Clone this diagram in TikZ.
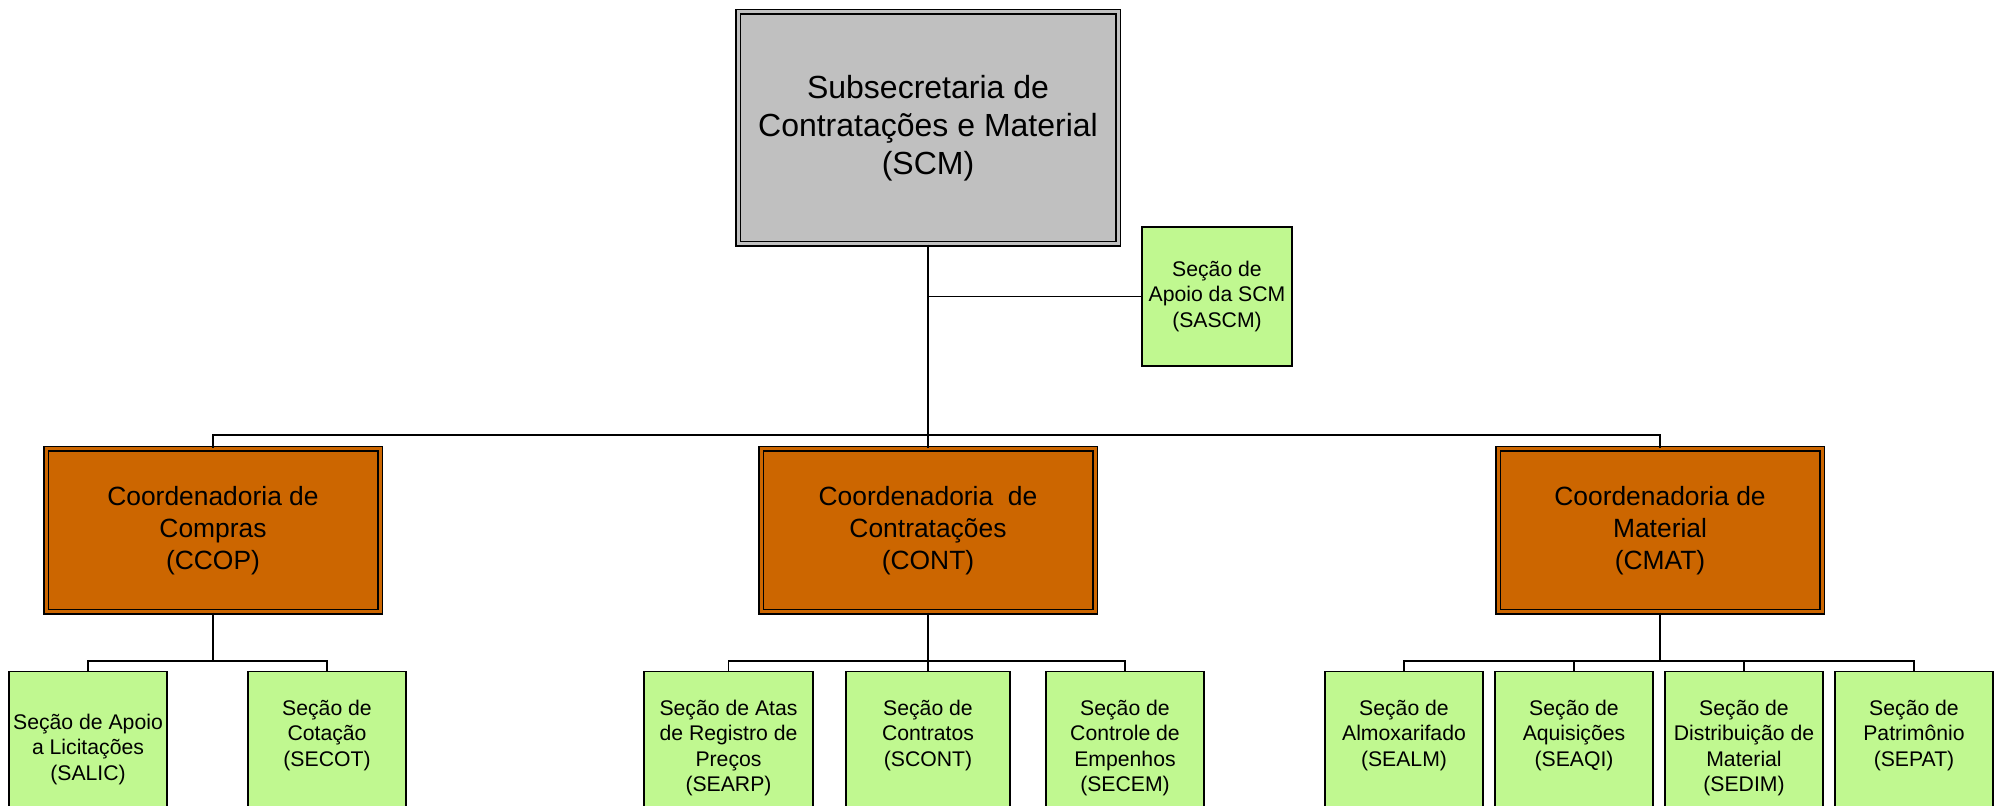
\documentclass[tikz,border=0pt]{standalone}
\usepackage{fontspec}
\setmainfont{Liberation Sans}
\definecolor{scmgray}{RGB}{192,192,192}
\definecolor{coordorange}{RGB}{204,102,0}
\definecolor{secgreen}{RGB}{192,248,144}
\tikzset{
  head/.style={draw, line width=0.75pt, double=scmgray, double distance=1.5pt, fill=scmgray,
    minimum width=190pt, minimum height=116pt, align=center, font=\fontsize{16}{19}\selectfont},
  coord/.style={draw, line width=0.75pt, double=coordorange, double distance=1.5pt, fill=coordorange,
    minimum height=81.5pt, align=center, font=\fontsize{13.2}{16}\selectfont},
  secbox/.style={draw, line width=0.7pt, fill=secgreen, anchor=north, minimum width=79pt, minimum height=100pt},
  sectext/.style={anchor=north, align=center, inner sep=0pt, font=\fontsize{10.6}{12.6}\selectfont},
  link/.style={line width=0.8pt},
  trunk/.style={line width=1.2pt}
}
\begin{document}
\begin{tikzpicture}[x=0.5pt,y=-0.5pt]
\useasboundingbox (0,0) rectangle (2004,806);
\clip (0,0) rectangle (2004,806);
\node[head] (scm) at (928,128) {Subsecretaria de\\Contratações e Material\\(SCM)};
\node[secbox, anchor=center, minimum width=74pt, minimum height=69.5pt, align=center,
  font=\fontsize{10.6}{12.6}\selectfont] (sascm) at (1217,296.5) {Seção de\\Apoio da SCM\\(SASCM)};
\node[coord, minimum width=167pt] (ccop) at (213,530.5) {Coordenadoria de\\Compras\\(CCOP)};
\node[coord, minimum width=167pt] (cont) at (928,530.5) {Coordenadoria\ \ de\\Contratações\\(CONT)};
\node[coord, minimum width=162pt] (cmat) at (1660,530.5) {Coordenadoria de\\Material\\(CMAT)};
\node[secbox] (salic) at (88,671) {};
\node[secbox] (secot) at (327,671) {};
\node[secbox, minimum width=84.5pt] (searp) at (728.5,671) {};
\node[secbox, minimum width=82pt] (scont) at (928,671) {};
\node[secbox] (secem) at (1125,671) {};
\node[secbox] (sealm) at (1404,671) {};
\node[secbox] (seaqi) at (1574,671) {};
\node[secbox] (sedim) at (1744,671) {};
\node[secbox] (sepat) at (1914,671) {};
\node[sectext] (t-salic) at ([yshift=-21.5pt]salic.north) {Seção de Apoio\\a Licitações\\(SALIC)};
\node[sectext] (t-secot) at ([yshift=-14.5pt]secot.north) {Seção de\\Cotação\\(SECOT)};
\node[sectext] (t-searp) at ([yshift=-14.5pt]searp.north) {Seção de Atas\\de Registro de\\Preços\\(SEARP)};
\node[sectext] (t-scont) at ([yshift=-14.5pt]scont.north) {Seção de\\Contratos\\(SCONT)};
\node[sectext] (t-secem) at ([yshift=-14.5pt]secem.north) {Seção de\\Controle de\\Empenhos\\(SECEM)};
\node[sectext] (t-sealm) at ([yshift=-14.5pt]sealm.north) {Seção de\\Almoxarifado\\(SEALM)};
\node[sectext] (t-seaqi) at ([yshift=-14.5pt]seaqi.north) {Seção de\\Aquisições\\(SEAQI)};
\node[sectext] (t-sedim) at ([yshift=-14.5pt]sedim.north) {Seção de\\Distribuição de\\Material\\(SEDIM)};
\node[sectext] (t-sepat) at ([yshift=-14.5pt]sepat.north) {Seção de\\Patrimônio\\(SEPAT)};
\coordinate (bus) at (928,435);
\coordinate (ccopbus) at (213,661);
\coordinate (contbus) at (928,661);
\coordinate (cmatbus) at (1660,661);
\draw[trunk] (scm.south) -- (cont.north);
\draw[link] (scm.south |- sascm.west) -- (sascm.west);
\draw[link] (ccop.north) |- (bus) -| (cmat.north);
\draw[trunk] (ccop.south) -- (ccopbus);
\draw[link] (salic.north) |- (ccopbus) -| (secot.north);
\draw[trunk] (cont.south) -- (scont.north);
\draw[link] (searp.north) |- (contbus) -| (secem.north);
\draw[trunk] (cmat.south) -- (cmatbus);
\draw[link] (sealm.north) |- (cmatbus) -| (sepat.north);
\draw[link] (seaqi.north) -- (seaqi.north |- cmatbus);
\draw[link] (sedim.north) -- (sedim.north |- cmatbus);
\end{tikzpicture}
\end{document}
